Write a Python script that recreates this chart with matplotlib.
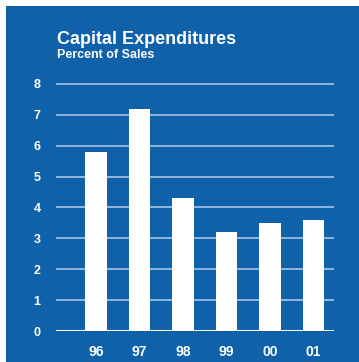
import matplotlib.pyplot as plt
from matplotlib.patches import Rectangle

# capital expenditures as percent of sales
years = ['96', '97', '98', '99', '00', '01']
pct_sales = [5.8, 7.2, 4.3, 3.2, 3.5, 3.6]
y_ticks = [0, 1, 2, 3, 4, 5, 6, 7, 8]

blue = '#0f62aa'
grid_col = '#a9c3e2'

plt.rcParams['font.family'] = ['Liberation Sans', 'DejaVu Sans']

W, H = 359, 362
fig = plt.figure(figsize=(W / 100, H / 100), dpi=100)
fig.patch.set_facecolor('white')
# blue background panel, kept behind the axes
fig.patches.append(Rectangle((6 / W, 0), 353 / W, 356 / H, transform=fig.transFigure,
                             facecolor=blue, edgecolor='none', zorder=-1))

ax = fig.add_axes([56 / W, 1 - 331 / H, 278 / W, (331 - 77.8) / H])
ax.set_facecolor('none')
for s in ax.spines.values():
    s.set_visible(False)

x = list(range(len(years)))
for t in y_ticks[1:]:
    ax.axhline(t, color=grid_col, lw=1.2, zorder=1)
ax.bar(x, pct_sales, width=0.5, color='white', zorder=2)
ax.axhline(0, color='white', lw=2.2, zorder=3)

ax.set_xlim(-0.92, 5.47)
ax.set_ylim(0, 8.2)
ax.set_yticks(y_ticks)
ax.set_xticks(x)
ax.set_xticklabels(years)
ax.tick_params(length=0, colors='white')
ax.tick_params(axis='y', pad=11, labelsize=9)
ax.tick_params(axis='x', pad=10, labelsize=10)
for lab in ax.get_xticklabels() + ax.get_yticklabels():
    lab.set_fontweight('bold')

fig.text(57 / W, 1 - 44.5 / H, 'Capital Expenditures', color='white', fontsize=13,
         fontweight='bold', va='baseline')
fig.text(57 / W, 1 - 57.5 / H, 'Percent of Sales', color='white', fontsize=9,
         fontweight='bold', va='baseline')

fig.savefig('out.png', dpi=100, facecolor=fig.get_facecolor())
